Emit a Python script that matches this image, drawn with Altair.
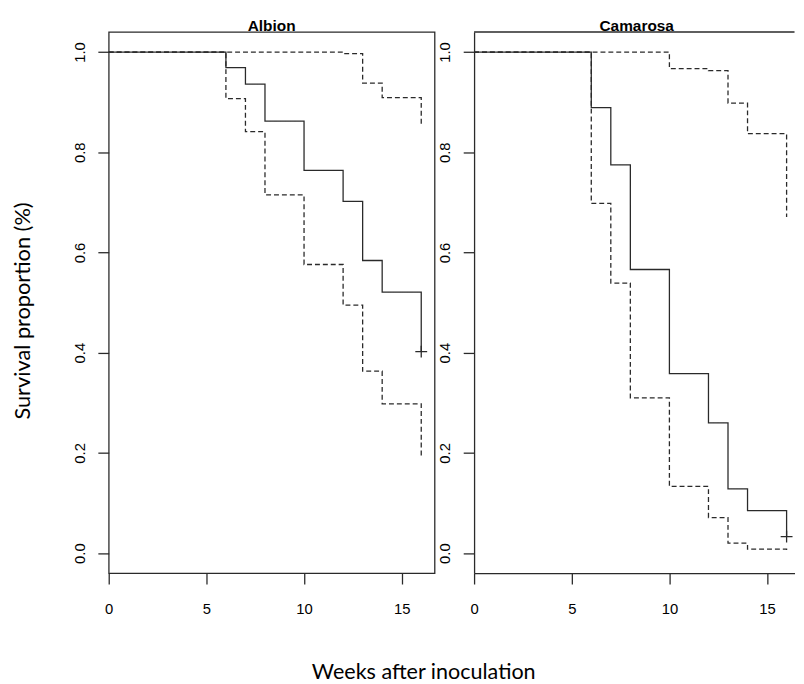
import glob
import struct

import altair as alt
import pandas as pd

# ---------------- data ----------------
cultivars = ["Albion", "Camarosa"]

alb_t = [0, 6, 7, 8, 10, 12, 13, 14, 16]
alb_surv = [1.0, 0.969, 0.936, 0.862, 0.764, 0.702, 0.584, 0.521, 0.402]
alb_up_t = [0, 12, 13, 14, 16]
alb_up = [1.0, 0.997, 0.938, 0.909, 0.851]
alb_lo_t = [0, 6, 7, 8, 10, 12, 13, 14, 16]
alb_lo = [1.0, 0.907, 0.841, 0.715, 0.576, 0.495, 0.363, 0.298, 0.190]

cam_t = [0, 6, 7, 8, 10, 12, 13, 14, 16]
cam_surv = [1.0, 0.889, 0.775, 0.566, 0.358, 0.260, 0.128, 0.085, 0.033]
cam_up_t = [0, 10, 12, 13, 14, 16]
cam_up = [1.0, 0.967, 0.963, 0.898, 0.837, 0.671]
cam_lo_t = [0, 6, 7, 8, 10, 12, 13, 14, 16]
cam_lo = [1.0, 0.698, 0.539, 0.310, 0.133, 0.071, 0.020, 0.008, 0.006]

censor_week = [16, 16]
censor_surv = [0.402, 0.033]

x_ticks = [0, 5, 10, 15]
y_ticks = [0.0, 0.2, 0.4, 0.6, 0.8, 1.0]
y_title = "Survival proportion (%)"
x_title = "Weeks after inoculation"

# ---------------- font sizing helper (matches the reference text lengths) ----------------
TITLE_FONT = "Lato"


def text_width_em(path, text):
    data = open(path, "rb").read()
    n = struct.unpack(">H", data[4:6])[0]
    tables = {}
    for i in range(n):
        tag, _cs, off, ln = struct.unpack(">4sIII", data[12 + 16 * i:28 + 16 * i])
        tables[tag.decode("latin-1")] = off
    head = tables["head"]
    upm = struct.unpack(">H", data[head + 18:head + 20])[0]
    hhea = tables["hhea"]
    nhm = struct.unpack(">H", data[hhea + 34:hhea + 36])[0]
    hmtx = tables["hmtx"]
    cmap = tables["cmap"]
    nsub = struct.unpack(">H", data[cmap + 2:cmap + 4])[0]
    sub = None
    for i in range(nsub):
        pid, eid, off = struct.unpack(">HHI", data[cmap + 4 + 8 * i:cmap + 12 + 8 * i])
        s = cmap + off
        fmt = struct.unpack(">H", data[s:s + 2])[0]
        if fmt == 4 and pid == 3:
            sub = s
            break
    segx2 = struct.unpack(">H", data[sub + 6:sub + 8])[0]
    seg = segx2 // 2
    ends = struct.unpack(">%dH" % seg, data[sub + 14:sub + 14 + segx2])
    so = sub + 16 + segx2
    starts = struct.unpack(">%dH" % seg, data[so:so + segx2])
    do = so + segx2
    deltas = struct.unpack(">%dh" % seg, data[do:do + segx2])
    ro = do + segx2
    ros = struct.unpack(">%dH" % seg, data[ro:ro + segx2])

    def gid(c):
        for k in range(seg):
            if ends[k] >= c:
                if starts[k] > c:
                    return 0
                if ros[k] == 0:
                    return (c + deltas[k]) & 0xFFFF
                addr = ro + 2 * k + ros[k] + 2 * (c - starts[k])
                g = struct.unpack(">H", data[addr:addr + 2])[0]
                return (g + deltas[k]) & 0xFFFF if g else 0
        return 0

    def adv(g):
        g = min(g, nhm - 1)
        return struct.unpack(">H", data[hmtx + 4 * g:hmtx + 4 * g + 2])[0]

    return sum(adv(gid(ord(ch))) for ch in text) / upm


def fit_size(text, target_px, default):
    try:
        paths = sorted(glob.glob("/usr/share/fonts/**/Lato-Regular.ttf", recursive=True))
        if not paths:
            return default
        w = text_width_em(paths[0], text)
        size = target_px / w
        if 14 <= size <= 30:
            return round(size, 1)
    except Exception:
        pass
    return default


YT_SIZE = fit_size(y_title, 221, 22)
XT_SIZE = fit_size(x_title, 229, 22)


def curves(name, t, s, ut, u, lt, lo):
    rows = []
    for a, b in zip(t, s):
        rows.append({"cultivar": name, "series": "est", "kind": "estimate", "week": a, "surv": b})
    for a, b in zip(ut, u):
        rows.append({"cultivar": name, "series": "upper", "kind": "ci", "week": a, "surv": b})
    for a, b in zip(lt, lo):
        rows.append({"cultivar": name, "series": "lower", "kind": "ci", "week": a, "surv": b})
    return pd.DataFrame(rows)


alb_df = curves("Albion", alb_t, alb_surv, alb_up_t, alb_up, alb_lo_t, alb_lo)
cam_df = curves("Camarosa", cam_t, cam_surv, cam_up_t, cam_up, cam_lo_t, cam_lo)
censor_df = pd.DataFrame({"cultivar": cultivars, "week": censor_week, "surv": censor_surv})

# ---------------- layout constants ----------------
PX_PER_WEEK = 19.78
W_LEFT = 330
W_RIGHT = 324.5
H = 548
LABEL_FONT = "Liberation Sans"
INK = "#2a2a2a"
LINE_W = 1.3
PLUS = "M-1,0L1,0M0,-1L0,1"


def panel(df, cens, name, width, show_frame, title_x):
    xdom = [0, width / PX_PER_WEEK]
    x = alt.X(
        "week:Q",
        scale=alt.Scale(domain=xdom, nice=False, zero=False),
        axis=alt.Axis(values=x_ticks, title=None, grid=False, domain=not show_frame,
                      domainColor=INK, domainWidth=LINE_W, tickColor=INK, tickWidth=LINE_W,
                      tickSize=11, labelPadding=18,
                      labelBaseline="top", labelFont=LABEL_FONT, labelFontSize=15,
                      labelColor="black", labelFlush=False),
    )
    y = alt.Y(
        "surv:Q",
        scale=alt.Scale(domain=[-0.04, 1.04], nice=False, zero=False),
        axis=alt.Axis(values=y_ticks, format=".1f", title=None, grid=False,
                      domain=not show_frame, domainColor=INK, domainWidth=LINE_W,
                      tickColor=INK, tickWidth=LINE_W,
                      tickSize=11, labelAngle=270, labelAlign="center",
                      labelBaseline="alphabetic", labelPadding=13.5,
                      labelFont=LABEL_FONT, labelFontSize=15, labelColor="black",
                      labelFlush=False),
    )
    lines = alt.Chart(df).mark_line(interpolate="step-after", color=INK,
                                    strokeWidth=LINE_W).encode(
        x=x, y=y,
        detail="series:N",
        strokeDash=alt.StrokeDash("kind:N", scale=alt.Scale(domain=["estimate", "ci"],
                                                             range=[[1, 0], [5, 3]]),
                                  legend=None),
    )
    plus = alt.Chart(cens).mark_point(shape=PLUS, size=144, filled=False, color=INK,
                                      strokeWidth=LINE_W, opacity=1).encode(x=x, y=y)
    ttl = alt.Chart(pd.DataFrame({"t": [name]})).mark_text(
        font=LABEL_FONT, fontSize=15.6, fontWeight="bold", color="black",
        align="center", baseline="alphabetic").encode(
        text="t:N", x=alt.value(title_x), y=alt.value(-0.7))
    layers = [lines, plus, ttl]
    if not show_frame:
        top = alt.Chart(pd.DataFrame({"t": [name]})).mark_rule(color=INK,
                                                                strokeWidth=LINE_W).encode(
            x=alt.value(0), x2=alt.value(width), y=alt.value(0))
        layers.append(top)
    return layers


left_layers = panel(alb_df, censor_df[censor_df.cultivar == "Albion"], "Albion",
                    W_LEFT, True, W_LEFT / 2)
ytitle = alt.Chart(pd.DataFrame({"t": [y_title]})).mark_text(
    font=TITLE_FONT, fontSize=YT_SIZE, color="black", angle=270,
    align="center", baseline="middle").encode(
    text="t:N", x=alt.value(-87.1), y=alt.value(282.5))
xtitle = alt.Chart(pd.DataFrame({"t": [x_title]})).mark_text(
    font=TITLE_FONT, fontSize=XT_SIZE, color="black",
    align="center", baseline="alphabetic").encode(
    text="t:N", x=alt.value(319), y=alt.value(655.5))
left = alt.layer(*left_layers, ytitle, xtitle).properties(
    width=W_LEFT, height=H,
    view=alt.ViewBackground(stroke=INK, strokeWidth=LINE_W))

right_layers = panel(cam_df, censor_df[censor_df.cultivar == "Camarosa"], "Camarosa",
                     W_RIGHT, False, 164.7)
right = alt.layer(*right_layers).properties(width=W_RIGHT, height=H)

chart = alt.hconcat(left, right, spacing=40, bounds="flush").properties(
    padding={"left": 3, "top": 6, "right": 0, "bottom": 0}
).configure_view(stroke=None)

chart.save("out.html", embed_options={"renderer": "svg", "actions": False})
